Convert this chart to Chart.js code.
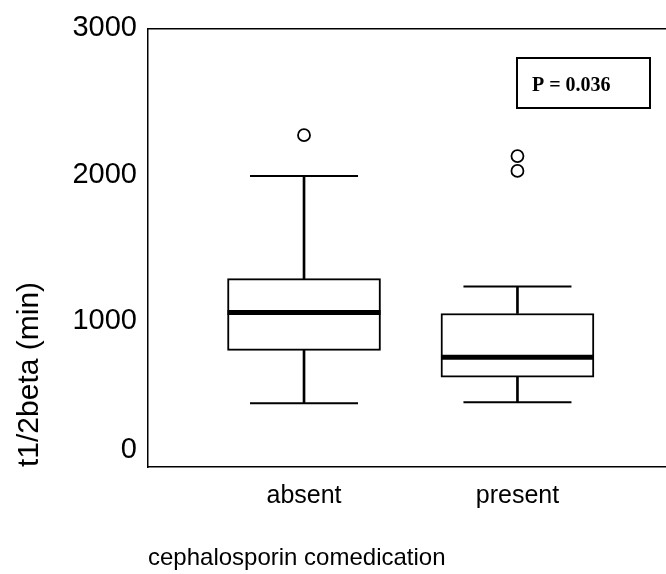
<!DOCTYPE html>
<html>
<head>
<meta charset="utf-8">
<script src="https://cdn.jsdelivr.net/npm/chart.js@4/dist/chart.umd.min.js"></script>
<style>
html,body{margin:0;padding:0;background:#fff}
#wrap{width:666px;height:574px}
</style>
</head>
<body>
<div id="wrap"><canvas id="c"></canvas></div>
<script>
// box plot summaries (minutes)
let categories=["absent","present"]
let lowerWhisker=[436,443]
let q1=[798,614]
let median=[1057,750]
let q3=[1289,1050]
let upperWhisker=[1991,1234]
let outliers=[[2270],[2127,2025]]
let yTicks=[0,1000,2000,3000]
let pLabel="P = 0.036"

let pos=categories.map((c,i)=>i+1)

let boxData=pos.map((x,i)=>({x:x,y:[q1[i],q3[i]]}))
let upperData=pos.map((x,i)=>({x:x,y:[q3[i],upperWhisker[i]]}))
let lowerData=pos.map((x,i)=>({x:x,y:[lowerWhisker[i],q1[i]]}))
let medianData=pos.map((x,i)=>({x:x,y:median[i]}))
let capData=[]
pos.forEach((x,i)=>{
capData.push({x:x,y:upperWhisker[i]})
capData.push({x:x,y:lowerWhisker[i]})
})
let outlierData=[]
pos.forEach((x,i)=>{
outliers[i].forEach(v=>outlierData.push({x:x,y:v}))
})

const pBox={
id:"pBox",
afterDraw(chart){
const ctx=chart.ctx
ctx.save()
ctx.strokeStyle="#000"
ctx.lineWidth=2
ctx.strokeRect(517,58,133,50)
ctx.fillStyle="#000"
ctx.font="bold 20px 'Liberation Serif'"
ctx.textBaseline="alphabetic"
ctx.fillText(pLabel,532,91)
ctx.restore()
}
}

new Chart(document.getElementById("c"),{

type:"bar",

data:{

datasets:[

{
data:upperData,
backgroundColor:"#000",
borderWidth:0,
barThickness:2,
grouped:false,
order:4
},

{
data:lowerData,
backgroundColor:"#000",
borderWidth:0,
barThickness:2,
grouped:false,
order:4
},

{
data:boxData,
backgroundColor:"#fff",
borderColor:"#000",
borderWidth:2,
borderSkipped:false,
barThickness:153,
grouped:false,
order:3
},

{
type:"scatter",
data:medianData,
pointStyle:"line",
pointRadius:76.5,
pointHoverRadius:76.5,
borderColor:"#000",
borderWidth:5,
order:0
},

{
type:"scatter",
data:capData,
pointStyle:"line",
pointRadius:54,
pointHoverRadius:54,
borderColor:"#000",
borderWidth:2,
order:0
},

{
type:"scatter",
data:outlierData,
pointStyle:"circle",
pointRadius:6,
backgroundColor:"#fff",
borderColor:"#000",
borderWidth:1.8,
order:0
}

]

},

options:{

responsive:true,
maintainAspectRatio:false,
animation:false,
events:[],

layout:{autoPadding:false,padding:{top:26,right:0,bottom:0,left:0}},

plugins:{
legend:{display:false},
tooltip:{enabled:false}
},

scales:{

x:{
type:"linear",
position:"bottom",
offset:false,
min:0.269,
max:2.696,
afterFit(s){s.height=107},
afterBuildTicks(s){s.ticks=pos.map(v=>({value:v}))},
grid:{display:false,offset:false,drawTicks:false},
border:{color:"#000",width:1.5},
ticks:{
color:"#000",
padding:14,
font:{family:"'Liberation Sans'",size:25},
callback:v=>categories[v-1]
},
title:{
display:true,
text:"cephalosporin comedication",
align:"start",
color:"#000",
padding:{top:0,bottom:1},
font:{family:"'Liberation Sans'",size:24}
}
},

x2:{
type:"linear",
position:"top",
offset:false,
min:0.269,
max:2.696,
afterFit(s){s.height=0},
grid:{display:false,offset:false,drawTicks:false},
ticks:{display:false},
border:{color:"#000",width:1.5}
},

y:{
min:0,
max:3000,
afterFit(s){s.width=148},
afterBuildTicks(s){s.ticks=yTicks.map(v=>({value:v}))},
grid:{display:false,drawTicks:false},
border:{color:"#000",width:1.5},
ticks:{
color:"#000",
padding:11,
font:{family:"'Liberation Sans'",size:29},
// the 0 label sits a little above its tick in the original
callback:v=>v===0?["0",""]:String(v)
},
title:{
display:true,
text:"t1/2beta (min)",
align:"start",
color:"#000",
padding:{top:12,bottom:0},
font:{family:"'Liberation Sans'",size:30}
}
}

}

},

plugins:[pBox]

})
</script>
</body>
</html>
